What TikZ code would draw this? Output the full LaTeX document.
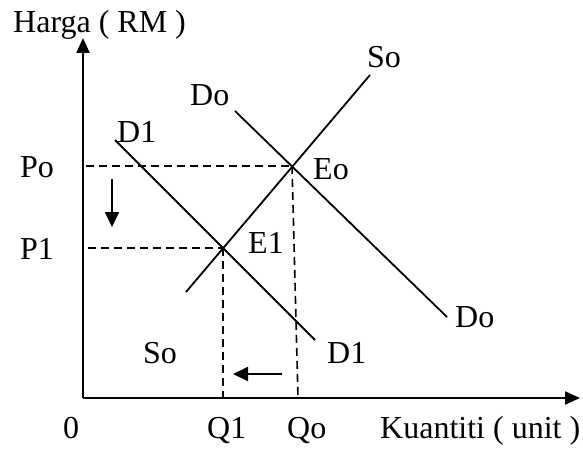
\documentclass[tikz,border=0pt]{standalone}
\usepackage{fontspec}
\setmainfont{Liberation Serif}
\usetikzlibrary{arrows.meta}
\begin{document}
\begin{tikzpicture}[x=1pt,y=-1pt,
  lbl/.style={inner sep=0pt, anchor=base west, font=\fontsize{32}{38}\selectfont},
  curve/.style={line width=1.8pt},
  axis/.style={line width=2.2pt, -{Triangle[length=15pt,width=13pt]}},
  guide/.style={line width=1.6pt, dash pattern=on 8pt off 5pt},
  move/.style={line width=2pt, -{Triangle[length=15pt,width=14pt]}}]
\useasboundingbox (0,0) rectangle (583,449);
% key points
\coordinate (O) at (83,398);
\coordinate (ytip) at (83,38);
\coordinate (xtip) at (580,398);
\coordinate (Eo) at (292,166);
\coordinate (E1) at (223,248);
\coordinate (PoL) at (86,166);
\coordinate (P1L) at (88,248);
\coordinate (QoB) at (298,398);
\coordinate (Q1B) at (223,398);
\coordinate (SoA) at (186,292);
\coordinate (SoB) at (370,75);
\coordinate (DoA) at (235,111);
\coordinate (DoB) at (447,317);
\coordinate (D1A) at (115,140);
\coordinate (D1B) at (315,340);
\coordinate (dA) at (112,179);
\coordinate (dB) at (112,227);
\coordinate (lA) at (282,374);
\coordinate (lB) at (233,374);
% labels
\node[lbl] (harga) at (13,33) {Harga ( RM )};
\node[lbl] (soTop) at (367,68) {So};
\node[lbl] (doTop) at (190,106) {Do};
\node[lbl] (d1Top) at (117,143) {D1};
\node[lbl] (po) at (20,178) {Po};
\node[lbl] (p1) at (20,259) {P1};
\node[lbl] (eo) at (313,179) {Eo};
\node[lbl] (e1) at (248,253) {E1};
\node[lbl] (doBot) at (455,327) {Do};
\node[lbl] (soBot) at (143,363) {So};
\node[lbl] (d1Bot) at (327,363) {D1};
\node[lbl] (zero) at (63,438) {0};
\node[lbl] (q1) at (207,438) {Q1};
\node[lbl] (qo) at (287,438) {Qo};
\node[lbl] (kuantiti) at (380,438) {Kuantiti ( unit )};
% axes
\draw[axis] (O) -- (ytip);
\draw[axis] (O) -- (xtip);
% guides
\draw[guide] (PoL) -- (Eo);
\draw[guide] (P1L) -- (E1);
\draw[guide] (E1) -- (Q1B);
\draw[guide] (Eo) -- (QoB);
% curves
\draw[curve] (SoA) -- (SoB);
\draw[curve] (DoA) -- (DoB);
\draw[curve] (D1A) -- (D1B);
% movement arrows
\draw[move] (dA) -- (dB);
\draw[move] (lA) -- (lB);
\end{tikzpicture}
\end{document}
